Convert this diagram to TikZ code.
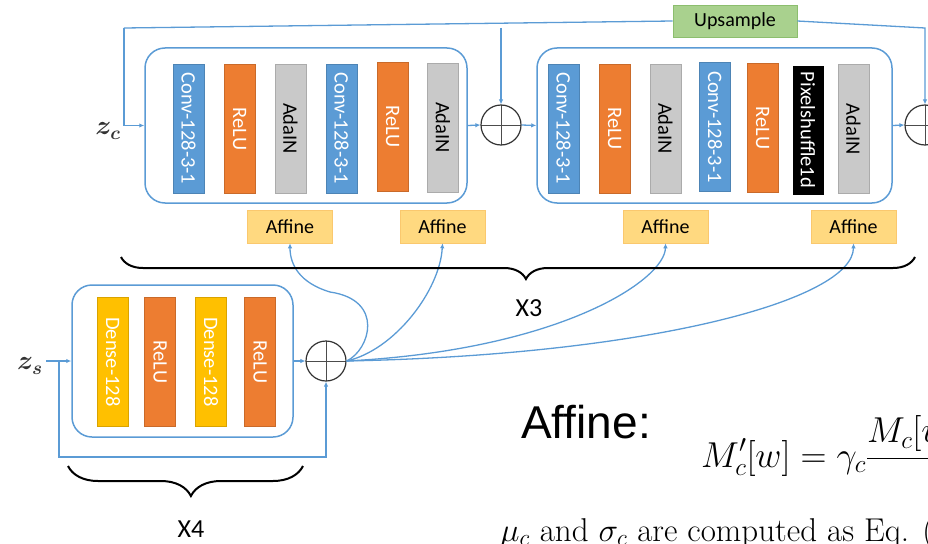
\documentclass[tikz,border=0pt]{standalone}
\usepackage{fix-cm}
\usepackage{amsmath}
\usepackage{fontspec}
\newfontfamily\carl{Carlito}
\newfontfamily\arl{Liberation Sans}
\usetikzlibrary{decorations.pathreplacing,arrows.meta}
\definecolor{lblue}{RGB}{91,155,213}
\definecolor{bblue}{RGB}{91,155,213}
\definecolor{borange}{RGB}{237,125,49}
\definecolor{bgray}{RGB}{201,201,201}
\definecolor{byellow}{RGB}{255,192,0}
\definecolor{affc}{RGB}{255,217,128}
\definecolor{affd}{RGB}{250,200,110}
\definecolor{upc}{RGB}{169,209,142}
\definecolor{upd}{RGB}{140,190,110}
\begin{document}
\begin{tikzpicture}[x=1pt,y=-1pt,
 ln/.style={draw=lblue, line width=1.3pt},
 arr/.style={ln, -{Latex[length=5pt,width=4.5pt]}},
 blk/.style={rotate=-90, minimum width=129pt, minimum height=31pt, inner sep=0pt, font=\carl\fontsize{20.5}{24}\selectfont, text=white},
 conv/.style={blk, fill=bblue, draw=bblue!85!black, line width=0.4pt},
 relu/.style={blk, fill=borange, draw=borange!85!black, line width=0.4pt},
 ada/.style={blk, fill=bgray, draw=bgray!85!black, line width=0.4pt, text=black},
 pix/.style={blk, fill=black},
 dense/.style={blk, fill=byellow, draw=byellow!85!black, line width=0.4pt},
 group/.style={draw=lblue, line width=1.5pt, rounded corners=20pt, inner sep=0pt},
 aff/.style={fill=affc, draw=affd, line width=0.6pt, minimum width=85pt, minimum height=33pt, inner sep=0pt, font=\carl\fontsize{20}{24}\selectfont},
 opl/.style={circle, draw=black!80, line width=1.2pt, minimum size=40pt, inner sep=0pt,
   path picture={\draw[black!70, line width=1pt] (path picture bounding box.north) -- (path picture bounding box.south) (path picture bounding box.west) -- (path picture bounding box.east);}},
 brc/.style={decorate, draw=black, line width=2pt},
 lbl/.style={font=\carl\fontsize{26}{30}\selectfont, inner sep=0pt}
]
\path[use as bounding box, clip] (0,0) rectangle (928,543);

% group boxes
\node[group, minimum width=322pt, minimum height=155pt] (g1) at (306,125.5) {};
\node[group, minimum width=355pt, minimum height=155pt] (g2) at (714.5,125.5) {};
\node[group, minimum width=221pt, minimum height=152pt] (g3) at (182.5,361) {};

% blocks, group 1
\node[conv] (c11) at (188.5,128.5) {Conv-128-3-1};
\node[relu] (r11) at (239.5,129) {ReLU};
\node[ada]  (a11) at (290.5,128.5) {AdaIN};
\node[conv] (c12) at (341.5,128.5) {Conv-128-3-1};
\node[relu] (r12) at (392.5,126.5) {ReLU};
\node[ada]  (a12) at (443,127.5) {AdaIN};
% blocks, group 2
\node[conv] (c21) at (563.5,128.5) {Conv-128-3-1};
\node[relu] (r21) at (614.5,128.5) {ReLU};
\node[ada]  (a21) at (665.5,128.5) {AdaIN};
\node[conv] (c22) at (715,127) {Conv-128-3-1};
\node[relu] (r22) at (762.5,128) {ReLU};
\node[pix]  (p22) at (808,130) {Pixelshuffle1d};
\node[ada]  (a22) at (853.5,129) {AdaIN};
% blocks, group 3
\node[dense] (d31) at (113,362) {Dense-128};
\node[relu]  (r31) at (160,362) {ReLU};
\node[dense] (d32) at (211,362) {Dense-128};
\node[relu]  (r32) at (260,362) {ReLU};

% adders
\node[opl] (o1) at (501,125) {};
\node[opl] (o2) at (925,125) {};
\node[opl] (o3) at (326,361) {};

% affine boxes
\node[aff] (af1) at (290,226.5) {Affine};
\node[aff] (af2) at (442.5,226.5) {Affine};
\node[aff] (af3) at (665.5,226.5) {Affine};
\node[aff] (af4) at (853.5,226.5) {Affine};

% upsample
\node[fill=upc, draw=upd, line width=0.6pt, minimum width=124pt, minimum height=32pt, inner sep=0pt,
      font=\carl\fontsize{20}{24}\selectfont] (up) at (735,21) {Upsample};

% labels
\node[inner sep=0pt, font=\fontsize{27}{30}\selectfont, text=black!80] (zc) at (108,131) {$\boldsymbol{z_c}$};
\node[inner sep=0pt, font=\fontsize{27}{30}\selectfont, text=black!80] (zs) at (30,366) {$\boldsymbol{z_s}$};

% coordinates
\coordinate (tl) at (124,28);
\coordinate (tr) at (925,28);
\coordinate (zsin) at (46,361);
\coordinate (sb) at (59,361);
\coordinate (sbl) at (59,457);

% top connectors
\draw[arr] (tl) -- (tl |- g1.west) -- (g1.west);
\draw[ln] (tl) -- (up.west);
\draw[arr] (up.east) -- (tr) -- (o2.north);
\draw[arr] (o1 |- tl) -- (o1.north);
\draw[arr] (g1.east) -- (o1.west);
\draw[arr] (o1.east) -- (g2.west);
\draw[arr] (g2.east) -- (o2.west);

% bottom connectors
\draw[arr] (zsin) -- (g3.west);
\draw[arr] (sb) -- (sbl) -- (sbl -| o3) -- (o3.south);
\draw[arr] (g3.east) -- (o3.west);

% curves to affine boxes
\draw[arr] (o3.east) .. controls (370,350) and (385,300) .. (330,292) .. controls (300,283) and (290,265) .. (af1.south);
\draw[arr] (o3.east) .. controls (395,350) and (440,290) .. (af2.south);
\draw[arr] (o3.east) .. controls (560,350) and (665,280) .. (af3.south);
\draw[arr] (o3.east) .. controls (650,355) and (853,300) .. (af4.south);

% braces
\draw[brc, decoration={brace, amplitude=22pt, aspect=0.49}] (915,257) -- (121,257);
\node[lbl] (x3) at (529,308) {X3};
\draw[brc, decoration={brace, amplitude=30pt, aspect=0.477}] (303,466) -- (68,466);
\node[lbl] (x4) at (191,529) {X4};

% formula text
\node[anchor=base west, inner sep=0pt, font=\arl\fontsize{46}{50}\selectfont] (afflbl) at (521,438) {Affine:};
\node[anchor=base west, inner sep=0pt, font=\fontsize{36}{40}\selectfont] (form) at (701,467)
  {$\displaystyle M'_c[w]=\gamma_c\frac{M_c[w]-\mu_c}{\sigma_c}+\beta_c$};
\node[anchor=base west, inner sep=0pt, font=\fontsize{33}{36}\selectfont] (note) at (500,541)
  {$\mu_c$ and $\sigma_c$ are computed as Eq. (1)};
\end{tikzpicture}
\end{document}
